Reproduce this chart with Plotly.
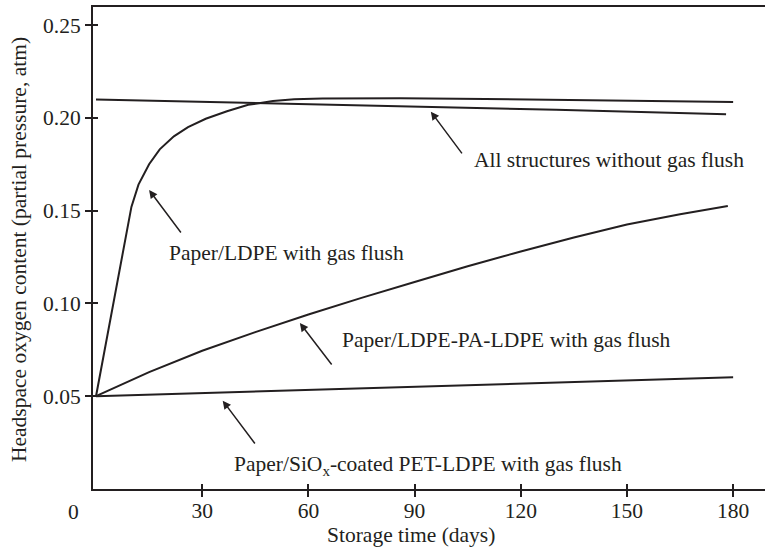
import plotly.graph_objects as go

# ---- data ----
days_ldpe = [0, 10, 12, 15, 18, 22, 26, 31, 37, 43, 50, 56, 64, 86, 110, 130, 150, 165, 180]
o2_ldpe = [0.05, 0.152, 0.164, 0.175, 0.183, 0.190, 0.195, 0.1995, 0.2035, 0.2070, 0.2090,
           0.2100, 0.2104, 0.2105, 0.2101, 0.2097, 0.2093, 0.2089, 0.2085]

days_noflush = [0, 43, 86, 130, 178]
o2_noflush = [0.2099, 0.2081, 0.2064, 0.2043, 0.2019]

days_pa = [0, 15, 30, 45, 60, 75, 90, 105, 120, 135, 150, 165, 178.5]
o2_pa = [0.05, 0.063, 0.0745, 0.0845, 0.094, 0.103, 0.1115, 0.1200, 0.1280, 0.1355, 0.1425, 0.1480, 0.1525]

days_siox = [0, 30, 60, 90, 120, 150, 180]
o2_siox = [0.05, 0.0517, 0.0534, 0.0551, 0.0568, 0.0585, 0.0602]

x_ticks = [30, 60, 90, 120, 150, 180]
y_ticks = [0.05, 0.10, 0.15, 0.20, 0.25]
y_tick_labels = ["0.05", "0.10", "0.15", "0.20", "0.25"]

labels = [
    "All structures without gas flush",
    "Paper/LDPE with gas flush",
    "Paper/LDPE-PA-LDPE with gas flush",
    "Paper/SiO<sub>x</sub>-coated PET-LDPE with gas flush",
]
# arrow tip, arrow tail, text left/center anchor (data units)
tips = [(94.6, 0.2033), (15.0, 0.1611), (57.6, 0.0894), (35.8, 0.0476)]
tails = [(103.7, 0.1800), (24.3, 0.1374), (66.9, 0.0663), (45.2, 0.0237)]
text_pos = [(106.2, 0.1773), (20.1, 0.1272), (68.9, 0.0803), (38.4, 0.0129)]

INK = "#231f20"
FONT = "Liberation Serif"
FS = 21.5
X_RANGE = [-0.85, 189]
Y_RANGE = [0, 0.2597]

fig = go.Figure()
for xs, ys in [(days_ldpe, o2_ldpe), (days_noflush, o2_noflush), (days_pa, o2_pa), (days_siox, o2_siox)]:
    fig.add_trace(go.Scatter(x=xs, y=ys, mode="lines", line=dict(color=INK, width=2),
                             showlegend=False, hoverinfo="skip"))

# invisible trace on overlay axes for inner tick marks
fig.add_trace(go.Scatter(x=[None], y=[None], xaxis="x2", yaxis="y2", showlegend=False))

for lab, tip, tail, tp in zip(labels, tips, tails, text_pos):
    fig.add_annotation(x=tip[0], y=tip[1], ax=tail[0], ay=tail[1], axref="x", ayref="y",
                       xref="x", yref="y", text="", showarrow=True, arrowhead=2,
                       arrowsize=1.1, arrowwidth=1.5, arrowcolor=INK)
    fig.add_annotation(x=tp[0], y=tp[1], xref="x", yref="y", text=lab, showarrow=False,
                       xanchor="left", yanchor="middle", font=dict(family=FONT, size=FS, color=INK))

# corner "0" label and axis titles (paper coords relative to plot area)
fig.add_annotation(x=-0.0283, y=-0.0477, xref="paper", yref="paper", text="0", showarrow=False,
                   xanchor="center", yanchor="middle", font=dict(family=FONT, size=FS, color=INK))
fig.add_annotation(x=0.4732, y=-0.0954, xref="paper", yref="paper",
                   text="Storage time (days)", showarrow=False, xanchor="center", yanchor="middle",
                   font=dict(family=FONT, size=FS, color=INK))
fig.add_annotation(x=-0.1101, y=0.4959, xref="paper", yref="paper", textangle=-90,
                   text="Headspace oxygen content (partial pressure, atm)", showarrow=False,
                   xanchor="center", yanchor="middle", font=dict(family=FONT, size=FS, color=INK))

fig.update_layout(
    width=765, height=548,
    margin=dict(l=93, r=0, t=7, b=59),
    paper_bgcolor="white", plot_bgcolor="white",
    xaxis=dict(range=X_RANGE, tickvals=x_ticks, ticks="outside", ticklen=6, tickwidth=1.5,
               tickcolor=INK, showline=True, linecolor=INK, linewidth=2, mirror=True,
               showgrid=False, zeroline=False, ticklabelstandoff=-5,
               tickfont=dict(family=FONT, size=FS, color=INK)),
    yaxis=dict(range=Y_RANGE, tickvals=y_ticks, ticktext=y_tick_labels, ticks="outside",
               ticklen=6, tickwidth=1.5, tickcolor=INK, showline=True, linecolor=INK,
               linewidth=2, mirror=False, showgrid=False, zeroline=False,
               tickfont=dict(family=FONT, size=FS, color=INK)),
    xaxis2=dict(range=X_RANGE, overlaying="x", tickvals=x_ticks, ticks="inside", ticklen=5,
                tickwidth=1.5, tickcolor=INK, showticklabels=False, showline=False,
                showgrid=False, zeroline=False, side="bottom"),
    yaxis2=dict(range=Y_RANGE, overlaying="y", tickvals=y_ticks, ticks="inside", ticklen=5,
                tickwidth=1.5, tickcolor=INK, showticklabels=False, showline=False,
                showgrid=False, zeroline=False, side="left"),
)

fig.write_html("out.html")
